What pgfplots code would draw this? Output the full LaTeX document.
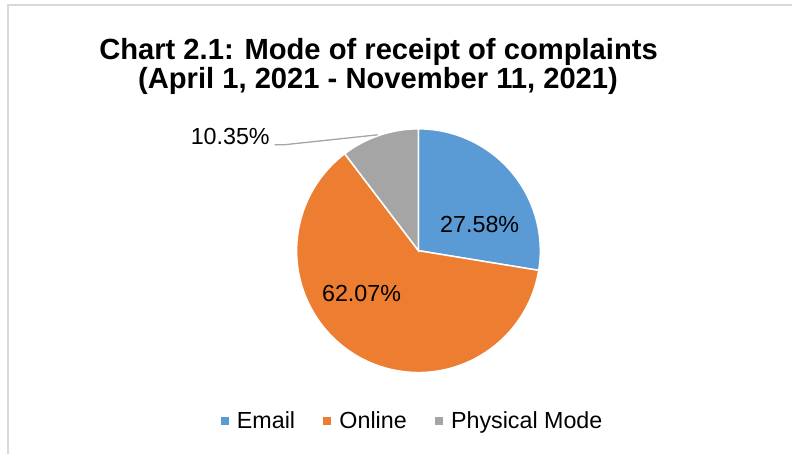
\documentclass[border=0pt]{standalone}
\usepackage{pgfplots}
\usepackage{pgfplotstable}
\pgfplotsset{compat=1.18}
\usepackage{fontspec}
\setmainfont{Liberation Sans}
\definecolor{emailc}{HTML}{5B9BD5}
\definecolor{onlinec}{HTML}{ED7D31}
\definecolor{physc}{HTML}{A5A5A5}
\definecolor{borderc}{HTML}{D9D9D9}
\pgfplotstableread{
label value
Email 27.58
Online 62.07
Physical 10.35
}\piedata
\begin{document}
\begin{tikzpicture}
\pgfplotstablegetelem{0}{value}\of\piedata\let\vA\pgfplotsretval
\pgfplotstablegetelem{1}{value}\of\piedata\let\vB\pgfplotsretval
\pgfplotstablegetelem{2}{value}\of\piedata\let\vC\pgfplotsretval
\pgfmathsetmacro\tot{\vA+\vB+\vC}
\pgfmathsetmacro\aA{90}
\pgfmathsetmacro\aB{90-(\vA/\tot)*360}
\pgfmathsetmacro\aC{\aB-(\vB/\tot)*360}
\pgfmathsetmacro\aD{\aC-(\vC/\tot)*360}
\begin{axis}[
  at={(0pt,0pt)}, anchor=south west,
  scale only axis, width=793pt, height=455pt,
  xmin=0, xmax=793, ymin=0, ymax=455,
  hide axis, clip=false,
  legend columns=3,
  legend image code/.code={\fill[#1] (0pt,-3.5pt) rectangle (7pt,3.5pt);},
  legend style={draw=none, fill=none, at={(axis cs:412,34)}, anchor=center,
    font=\fontsize{23.3}{26}\selectfont, inner sep=0pt,
    nodes={inner sep=0pt},
    /tikz/every odd column/.append style={column sep=9pt},
    /tikz/every even column/.append style={column sep=28pt},
    cells={anchor=west}},
]
% chart border (cropped)
\draw[borderc, line width=2pt] (axis cs:8,0) -- (axis cs:8,450) -- (axis cs:793,450);
% slices
\fill[emailc, draw=white, line width=1.5pt] (axis cs:419,204) -- (axis cs:{419+122*cos(\aA)},{204+122*sin(\aA)}) arc[start angle=\aA, end angle=\aB, radius=122pt] -- cycle;
\fill[onlinec, draw=white, line width=1.5pt] (axis cs:419,204) -- (axis cs:{419+122*cos(\aB)},{204+122*sin(\aB)}) arc[start angle=\aB, end angle=\aC, radius=122pt] -- cycle;
\fill[physc, draw=white, line width=1.5pt] (axis cs:419,204) -- (axis cs:{419+122*cos(\aC)},{204+122*sin(\aC)}) arc[start angle=\aC, end angle=\aD, radius=122pt] -- cycle;
% leader line
\draw[physc, line width=1.3pt] (axis cs:275,310) -- (axis cs:284,310) -- (axis cs:378,320);
% data labels
\node[anchor=base, inner sep=0pt, font=\fontsize{23.3}{26}\selectfont] at (axis cs:480.3,222.7) {\vA\%};
\node[anchor=base, inner sep=0pt, font=\fontsize{23.3}{26}\selectfont] at (axis cs:362,152.7) {\vB\%};
\node[anchor=base, inner sep=0pt, font=\fontsize{23.3}{26}\selectfont] at (axis cs:230.5,310) {\vC\%};
% title
\node[anchor=base, inner sep=0pt, font=\bfseries\fontsize{29.2}{33}\selectfont] at (axis cs:379,395) {Chart 2.1: Mode of receipt of complaints};
\node[anchor=base, inner sep=0pt, font=\bfseries\fontsize{29.2}{33}\selectfont] at (axis cs:378.5,366) {(April 1, 2021 - November 11, 2021)};
\addlegendimage{emailc}
\addlegendentry{Email}
\addlegendimage{onlinec}
\addlegendentry{Online}
\addlegendimage{physc}
\addlegendentry{Physical Mode}
\end{axis}
\path (0,0) rectangle (793pt,455pt);
\end{tikzpicture}
\end{document}
